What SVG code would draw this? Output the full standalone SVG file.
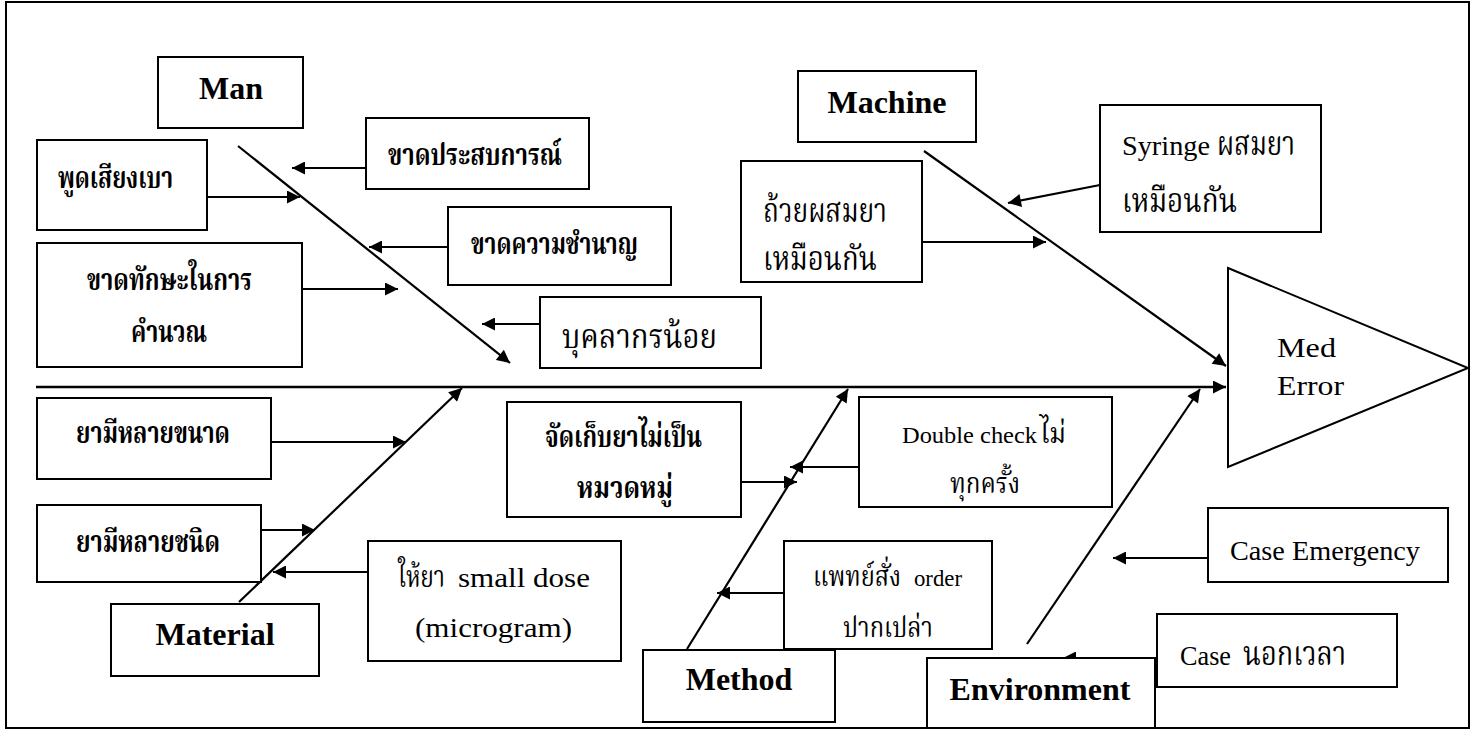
<svg xmlns="http://www.w3.org/2000/svg" width="1473" height="730" viewBox="0 0 1473 730">
<defs>
<style>
.frame{fill:#fff;stroke:#000;stroke-width:2}
.box{fill:#fff;stroke:#000;stroke-width:2}
.ln{fill:none;stroke:#000;stroke-width:2.2}
.spine{fill:none;stroke:#000;stroke-width:2.6}
text{font-family:"Liberation Serif","Noto Serif Thai","Noto Sans Thai",serif;fill:#000}
.cat{font-size:32px;font-weight:bold;text-anchor:middle}
.tb{font-size:30px;font-weight:bold}
.tr{font-size:34px}
.tm{font-size:30px}
.ts{font-size:28px}
.lat{font-size:28px}
.lats{font-size:24px}
</style>
<marker id="ah" viewBox="0 0 12 12" refX="12" refY="6" markerWidth="14" markerHeight="13" markerUnits="userSpaceOnUse" orient="auto">
<path d="M0,0 L12,6 L0,12 z" fill="#000"/>
</marker>
</defs>
<rect class="frame" x="6" y="2" width="1463" height="726"/>

<g id="connectors">
<line class="spine" x1="36" y1="387" x2="1226" y2="387" marker-end="url(#ah)"/>
<line class="ln" x1="238" y1="146" x2="510" y2="363" marker-end="url(#ah)"/>
<line class="ln" x1="924" y1="151" x2="1226" y2="366" marker-end="url(#ah)"/>
<line class="ln" x1="239" y1="602" x2="462" y2="388" marker-end="url(#ah)"/>
<line class="ln" x1="687" y1="649" x2="848" y2="389" marker-end="url(#ah)"/>
<line class="ln" x1="1027" y1="644" x2="1200" y2="389" marker-end="url(#ah)"/>
<line class="ln" x1="207" y1="197" x2="300" y2="197" marker-end="url(#ah)"/>
<line class="ln" x1="302" y1="289" x2="398" y2="289" marker-end="url(#ah)"/>
<line class="ln" x1="366" y1="168" x2="292" y2="168" marker-end="url(#ah)"/>
<line class="ln" x1="448" y1="247" x2="369" y2="247" marker-end="url(#ah)"/>
<line class="ln" x1="540" y1="324" x2="482" y2="324" marker-end="url(#ah)"/>
<line class="ln" x1="922" y1="242" x2="1046" y2="242" marker-end="url(#ah)"/>
<line class="ln" x1="1100" y1="185" x2="1008" y2="203" marker-end="url(#ah)"/>
<line class="ln" x1="271" y1="442" x2="406" y2="442" marker-end="url(#ah)"/>
<line class="ln" x1="261" y1="530" x2="315" y2="530" marker-end="url(#ah)"/>
<line class="ln" x1="368" y1="572" x2="273" y2="572" marker-end="url(#ah)"/>
<line class="ln" x1="741" y1="482" x2="797" y2="482" marker-end="url(#ah)"/>
<line class="ln" x1="859" y1="467" x2="790" y2="467" marker-end="url(#ah)"/>
<line class="ln" x1="784" y1="593" x2="717" y2="593" marker-end="url(#ah)"/>
<line class="ln" x1="1208" y1="558" x2="1113" y2="558" marker-end="url(#ah)"/>
<line class="ln" x1="1157" y1="658" x2="1063" y2="658" marker-end="url(#ah)"/>
</g>

<g id="med-error">
<polygon class="box" points="1228,268 1468,368 1228,467"/>
<text class="lat" x="1277" y="357" textLength="59" lengthAdjust="spacingAndGlyphs">Med</text>
<text class="lat" x="1277" y="395" textLength="67" lengthAdjust="spacingAndGlyphs">Error</text>
</g>

<g id="man"><rect class="box" x="158" y="57" width="145" height="71"/><text class="cat" x="231" y="99">Man</text></g>
<g id="machine"><rect class="box" x="798" y="71" width="178" height="71"/><text class="cat" x="887" y="113">Machine</text></g>
<g id="material"><rect class="box" x="111" y="604" width="208" height="72"/><text class="cat" x="215" y="645">Material</text></g>
<g id="method"><rect class="box" x="643" y="650" width="192" height="72"/><text class="cat" x="739" y="690">Method</text></g>
<g id="environment"><rect class="box" x="927" y="658" width="228" height="70"/><text class="cat" x="1040" y="700">Environment</text></g>

<g id="speak-softly"><rect class="box" x="37" y="140" width="170" height="90"/>
<text class="tb" x="58" y="188" textLength="115" lengthAdjust="spacingAndGlyphs">พูดเสียงเบา</text></g>
<g id="lack-calc-skill"><rect class="box" x="37" y="243" width="265" height="124"/>
<text class="tb" x="87" y="290" textLength="165" lengthAdjust="spacingAndGlyphs">ขาดทักษะในการ</text>
<text class="tb" x="131" y="342" textLength="76" lengthAdjust="spacingAndGlyphs">คำนวณ</text></g>
<g id="lack-experience"><rect class="box" x="366" y="118" width="223" height="71"/>
<text class="tb" x="388" y="165" textLength="174" lengthAdjust="spacingAndGlyphs">ขาดประสบการณ์</text></g>
<g id="lack-expertise"><rect class="box" x="448" y="207" width="223" height="78"/>
<text class="tb" x="471" y="254" textLength="167" lengthAdjust="spacingAndGlyphs">ขาดความชำนาญ</text></g>
<g id="few-staff"><rect class="box" x="540" y="297" width="221" height="71"/>
<text class="tr" x="562" y="348" textLength="155" lengthAdjust="spacingAndGlyphs">บุคลากรน้อย</text></g>

<g id="same-cups"><rect class="box" x="741" y="161" width="181" height="121"/>
<text class="tr" x="763" y="222" textLength="124" lengthAdjust="spacingAndGlyphs">ถ้วยผสมยา</text>
<text class="tr" x="763" y="270" textLength="114" lengthAdjust="spacingAndGlyphs">เหมือนกัน</text></g>
<g id="same-syringes"><rect class="box" x="1100" y="105" width="221" height="127"/>
<text y="155"><tspan class="lat" x="1122" textLength="88" lengthAdjust="spacingAndGlyphs">Syringe</tspan><tspan class="tr" x="1217" textLength="78" lengthAdjust="spacingAndGlyphs">ผสมยา</tspan></text>
<text class="tr" x="1122" y="212" textLength="115" lengthAdjust="spacingAndGlyphs">เหมือนกัน</text></g>

<g id="many-sizes"><rect class="box" x="37" y="398" width="234" height="81"/>
<text class="tb" x="76" y="443" textLength="154" lengthAdjust="spacingAndGlyphs">ยามีหลายขนาด</text></g>
<g id="many-types"><rect class="box" x="37" y="505" width="224" height="77"/>
<text class="tb" x="76" y="552" textLength="144" lengthAdjust="spacingAndGlyphs">ยามีหลายชนิด</text></g>
<g id="small-dose"><rect class="box" x="368" y="541" width="253" height="120"/>
<text y="587"><tspan class="tm" x="398" textLength="47" lengthAdjust="spacingAndGlyphs">ให้ยา</tspan><tspan class="lat" x="458" textLength="132" lengthAdjust="spacingAndGlyphs">small dose</tspan></text>
<text class="lat" x="415" y="637" textLength="157" lengthAdjust="spacingAndGlyphs">(microgram)</text></g>

<g id="storage"><rect class="box" x="507" y="402" width="234" height="115"/>
<text class="tb" x="545" y="447" textLength="157" lengthAdjust="spacingAndGlyphs">จัดเก็บยาไม่เป็น</text>
<text class="tb" x="577" y="498" textLength="96" lengthAdjust="spacingAndGlyphs">หมวดหมู่</text></g>
<g id="double-check"><rect class="box" x="859" y="397" width="253" height="110"/>
<text y="443"><tspan class="lats" x="902" textLength="135" lengthAdjust="spacingAndGlyphs">Double check</tspan><tspan class="ts" x="1040" textLength="26" lengthAdjust="spacingAndGlyphs">ไม่</tspan></text>
<text class="ts" x="950" y="493" textLength="70" lengthAdjust="spacingAndGlyphs">ทุกครั้ง</text></g>
<g id="verbal-order"><rect class="box" x="784" y="541" width="208" height="108"/>
<text y="586"><tspan class="ts" x="813" textLength="88" lengthAdjust="spacingAndGlyphs">แพทย์สั่ง</tspan><tspan class="lats" x="914" textLength="48" lengthAdjust="spacingAndGlyphs">order</tspan></text>
<text class="ts" x="843" y="637" textLength="90" lengthAdjust="spacingAndGlyphs">ปากเปล่า</text></g>

<g id="case-emergency"><rect class="box" x="1208" y="508" width="240" height="74"/>
<text class="lat" x="1230" y="560" textLength="190" lengthAdjust="spacingAndGlyphs">Case Emergency</text></g>
<g id="case-after-hours"><rect class="box" x="1157" y="614" width="240" height="73"/>
<text y="665"><tspan class="lat" x="1180" textLength="51" lengthAdjust="spacingAndGlyphs">Case</tspan><tspan class="tr" x="1243" textLength="103" lengthAdjust="spacingAndGlyphs">นอกเวลา</tspan></text></g>
</svg>
